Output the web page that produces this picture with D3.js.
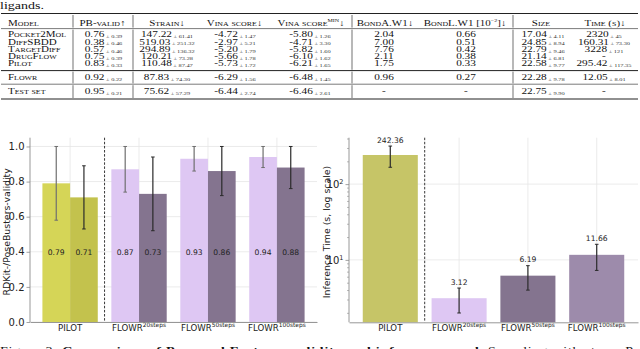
<!DOCTYPE html>
<html><head><meta charset="utf-8">
<script src="https://cdn.jsdelivr.net/npm/d3@7"></script>
<style>body{margin:0;background:#fff}svg{display:block}</style>
</head><body>
<svg id="c" width="640" height="349"></svg>
<script>
// ================= DATA =================
// Table
const tableModels = ["Pocket2Mol","DiffSBDD","TargetDiff","DrugFlow","Pilot","Flowr","Test set"];
const pbValidMean = ["0.76","0.38","0.57","0.75","0.83","0.92","0.95"];
const pbValidStd  = ["0.39","0.46","0.46","0.39","0.33","0.22","0.21"];
const strainMean  = ["147.22","519.03","294.89","120.21","110.48","87.83","75.62"];
const strainStd   = ["61.41","251.32","136.32","73.28","87.47","74.30","57.29"];
const vinaMean    = ["-4.72","-2.97","-5.20","-5.66","-5.73","-6.29","-6.44"];
const vinaStd     = ["1.47","5.21","1.79","1.78","1.72","1.56","2.74"];
const vinaMinMean = ["-5.80","-4.71","-5.82","-6.10","-6.21","-6.48","-6.46"];
const vinaMinStd  = ["1.26","3.30","1.60","1.62","1.65","1.45","2.61"];
const bondAW1     = ["2.04","7.00","7.76","2.11","1.75","0.96","-"];
const bondLW1     = ["0.66","0.51","0.42","0.38","0.33","0.27","-"];
const sizeMean    = ["17.04","24.85","22.79","21.14","22.58","22.28","22.75"];
const sizeStd     = ["4.11","8.94","9.46","6.81","9.77","9.78","9.90"];
const timeMean    = ["2320","160.31","3228","-","295.42","12.05","-"];
const timeStd     = ["45","73.30","121","","117.35","8.01",""];

// Charts
const methods      = ["PILOT","FLOWR20","FLOWR50","FLOWR100"];
const methodBase   = ["PILOT","FLOWR","FLOWR","FLOWR"];
const methodSup    = ["","20steps","50steps","100steps"];
const rdkitValid   = [0.79, 0.87, 0.93, 0.94];
const rdkitLow     = [0.58, 0.74, 0.86, 0.88];
const rdkitHigh    = [1.00, 1.00, 1.00, 1.00];
const pbValid      = [0.71, 0.73, 0.86, 0.88];
const pbLow        = [0.53, 0.52, 0.72, 0.76];
const pbHigh       = [0.89, 0.94, 1.00, 1.00];
const validityTicks = [0, 0.2, 0.4, 0.6, 0.8, 1.0];
const inferTime    = [242.36, 3.12, 6.19, 11.66];
const inferStd     = [75.5, 1.13, 2.2, 4.4];
const timeTicks    = [10, 100];
const timeMinorTicks = [2,3,4,5,6,7,8,9,20,30,40,50,60,70,80,90,200,300,400];

// ================= STYLE =================
const SERIF = "'Liberation Serif','Times New Roman',serif";
const SANS  = "'DejaVu Sans',sans-serif";
const pilotCols = ["#d5d557","#c3c24d"];
const flowrCols = ["#dec7f3","#84748f"];
const timeCols  = ["#c6c567","#dec7f3","#84748f","#9d8bab"];
const SY = 0.76; // vertical squash of the serif text, as in the reference

const svg = d3.select("#c");
svg.append("rect").attr("width",640).attr("height",349).attr("fill","#fff");

function ctext(g, x, y, anchor, size) {
  return g.append("text").attr("transform",`translate(${x},${y}) scale(1,${SY})`)
    .attr("text-anchor",anchor).attr("font-size",size);
}

// ================= TOP TEXT =================
ctext(svg, 0, 9.3, "start", 14).attr("font-family",SERIF).attr("fill","#111").text("ligands.");

// ================= TABLE =================
const tbl = svg.append("g").attr("font-family",SERIF).attr("fill","#111");
const rowSlot = [0,1,2,3,4,5.93,7.86];
const rowY = i => 37.4 + rowSlot[i]*7.2;
const rules = [[13.5,1.2],[28.6,0.6],[70.6,1.0],[84.2,0.6],[99,1.2]];
rules.forEach(([y,w]) => tbl.append("line").attr("x1",1).attr("x2",638)
  .attr("y1",y).attr("y2",y).attr("stroke","#222").attr("stroke-width",w));
const vseps = [73,133,352,513];
const sections = [[15,27.6],[29.6,69.8],[71.6,83.4],[85.2,98]];
vseps.forEach(x => sections.forEach(([a,b]) => tbl.append("line")
  .attr("x1",x).attr("x2",x).attr("y1",a).attr("y2",b)
  .attr("stroke","#333").attr("stroke-width",0.7)));

// headers
const headerY = 25.6;
const headers = [
  {x:8, a:"start", parts:[["Model"]]},
  {x:102.5, a:"middle", parts:[["PB-valid↑"]]},
  {x:167, a:"middle", parts:[["Strain↓"]]},
  {x:234.5, a:"middle", parts:[["Vina score↓"]]},
  {x:311, a:"middle", parts:[["Vina score"],["MIN","sup"],["↓"]]},
  {x:385, a:"middle", parts:[["BondA.W1↓"]]},
  {x:465, a:"middle", parts:[["BondL.W1 [10"],["−2","sup"],["]↓"]]},
  {x:541, a:"middle", parts:[["Size"]]},
  {x:605, a:"middle", parts:[["Time (s)↓"]]}
];
headers.forEach(h => {
  const t = ctext(tbl, h.x, headerY, h.a, 11).attr("font-variant","small-caps");
  let prevSup = false;
  h.parts.forEach(([s,k]) => {
    if (k === "sup") { t.append("tspan").attr("font-size",6).attr("dy",-5).attr("font-variant","normal").text(s); prevSup = true; }
    else { const sp = t.append("tspan").text(s); if (prevSup) sp.attr("dy",5); prevSup = false; }
  });
});
// model names
tableModels.forEach((m,i) => ctext(tbl, 8, rowY(i), "start", 11)
  .attr("font-variant","small-caps").text(m));
// values
const cols = [
  {x:103.5, mean:pbValidMean, sd:pbValidStd},
  {x:167,   mean:strainMean,  sd:strainStd},
  {x:235,   mean:vinaMean,    sd:vinaStd},
  {x:310,   mean:vinaMinMean, sd:vinaMinStd},
  {x:384,   mean:bondAW1},
  {x:466,   mean:bondLW1},
  {x:543,   mean:sizeMean,    sd:sizeStd},
  {x:604,   mean:timeMean,    sd:timeStd}
];
cols.forEach(c => c.mean.forEach((v,i) => {
  const t = ctext(tbl, c.x, rowY(i), "middle", 11.3);
  t.append("tspan").text(v);
  if (c.sd && c.sd[i]) t.append("tspan").attr("font-size",6.4).attr("dy",1)
    .attr("fill","#333").text(" ± " + c.sd[i]);
}));

// ================= CHART HELPERS =================
function styleAxis(g) {
  g.attr("font-family",SANS);
  g.select(".domain").attr("stroke","#8c8c8c").attr("stroke-width",0.9);
  g.selectAll(".tick line").attr("stroke","#8c8c8c").attr("stroke-width",0.8);
  g.selectAll(".tick text").attr("fill","#222");
}
function xLabels(g) {
  g.selectAll(".tick text").each(function(d){
    const i = methods.indexOf(d);
    const t = d3.select(this).text(null).attr("font-size",8.6);
    t.append("tspan").text(methodBase[i]);
    if (methodSup[i]) t.append("tspan").attr("font-size",5.9).attr("dy",-3.6).text(methodSup[i]);
  });
}
function errBar(g, cx, y1, y2, col) {
  g.append("line").attr("x1",cx).attr("x2",cx).attr("y1",y1).attr("y2",y2)
    .attr("stroke",col).attr("stroke-width",1.2);
  [y1,y2].forEach(y => g.append("line").attr("x1",cx-1.8).attr("x2",cx+1.8)
    .attr("y1",y).attr("y2",y).attr("stroke",col).attr("stroke-width",1));
}

// ================= LEFT CHART =================
const L = {l:30, r:317, t:137.7, b:322};
const gL = svg.append("g");
const xL = d3.scaleBand().domain(methods).range([L.l,L.r]).paddingInner(0.197).paddingOuter(0.18);
const xS = d3.scaleBand().domain(["rdkit","pb"]).range([0,xL.bandwidth()]);
const yL = d3.scaleLinear().domain([0,1.05]).range([L.b,L.t]);

gL.selectAll(".hg").data(validityTicks).join("line")
  .attr("x1",L.l).attr("x2",L.r).attr("y1",d=>yL(d)).attr("y2",d=>yL(d))
  .attr("stroke","#e6e6e6").attr("stroke-width",0.8);
gL.selectAll(".vg").data(methods).join("line")
  .attr("x1",d=>xL(d)+xL.bandwidth()/2).attr("x2",d=>xL(d)+xL.bandwidth()/2)
  .attr("y1",L.t).attr("y2",L.b).attr("stroke","#e6e6e6").attr("stroke-width",0.8);

methods.forEach((m,i) => {
  const cs = i === 0 ? pilotCols : flowrCols;
  [["rdkit",rdkitValid,rdkitLow,rdkitHigh,"#6f6f6f"],["pb",pbValid,pbLow,pbHigh,"#2a2a2a"]]
  .forEach(([k,vals,lo,hi,ec],j) => {
    const x = xL(m) + xS(k);
    gL.append("rect").attr("x",x).attr("width",xS.bandwidth())
      .attr("y",yL(vals[i])).attr("height",yL(0)-yL(vals[i])).attr("fill",cs[j]);
    errBar(gL, x + xS.bandwidth()/2, yL(hi[i]), yL(lo[i]), ec);
    gL.append("text").attr("x",x + xS.bandwidth()/2).attr("y",yL(0.4)+2.8)
      .attr("text-anchor","middle").attr("font-family",SANS).attr("font-size",7.6)
      .attr("fill","#222").text(d3.format(".2f")(vals[i]));
  });
});
const sepL = (xL("PILOT") + xL.bandwidth() + xL("FLOWR20"))/2;
gL.append("line").attr("x1",sepL).attr("x2",sepL).attr("y1",L.t).attr("y2",L.b)
  .attr("stroke","#222").attr("stroke-width",0.9).attr("stroke-dasharray","2.5,1.6");

const axL = gL.append("g").attr("transform",`translate(${L.l},0)`)
  .call(d3.axisLeft(yL).tickValues(validityTicks).tickFormat(d3.format(".1f")).tickSize(3.5).tickSizeOuter(0).tickPadding(2));
axL.select(".domain").attr("d",`M0,${L.t}V${L.b}`);
styleAxis(axL); axL.selectAll(".tick text").attr("font-size",10);
const bxL = gL.append("g").attr("transform",`translate(0,${L.b})`)
  .call(d3.axisBottom(xL).tickSize(0).tickSizeOuter(0).tickPadding(2.5));
styleAxis(bxL); xLabels(bxL);
gL.append("text").attr("transform",`translate(9.5,${(L.t+L.b)/2+2}) rotate(-90)`)
  .attr("text-anchor","middle").attr("font-family",SANS).attr("font-size",9.4)
  .attr("fill","#222").text("RDKit-/PoseBusters-validity");

// ================= RIGHT CHART =================
const R = {l:349, r:638, t:137.7, b:322.3};
const gR = svg.append("g");
const xR = d3.scaleBand().domain(methods).range([R.l,R.r]).paddingInner(0.2).paddingOuter(0.2);
const yR = d3.scaleLog().domain([1.5,410]).range([R.b,R.t]);

gR.selectAll(".hg").data(timeTicks).join("line")
  .attr("x1",R.l).attr("x2",R.r).attr("y1",d=>yR(d)).attr("y2",d=>yR(d))
  .attr("stroke","#e6e6e6").attr("stroke-width",0.8);
gR.selectAll(".vg").data(methods).join("line")
  .attr("x1",d=>xR(d)+xR.bandwidth()/2).attr("x2",d=>xR(d)+xR.bandwidth()/2)
  .attr("y1",R.t).attr("y2",R.b).attr("stroke","#e6e6e6").attr("stroke-width",0.8);

methods.forEach((m,i) => {
  const x = xR(m), cx = x + xR.bandwidth()/2;
  gR.append("rect").attr("x",x).attr("width",xR.bandwidth())
    .attr("y",yR(inferTime[i])).attr("height",R.b - yR(inferTime[i])).attr("fill",timeCols[i]);
  const top = yR(inferTime[i] + inferStd[i]);
  errBar(gR, cx, top, yR(inferTime[i] - inferStd[i]), "#2a2a2a");
  gR.append("text").attr("x",cx).attr("y",top - 3.4).attr("text-anchor","middle")
    .attr("font-family",SANS).attr("font-size",7.6).attr("fill","#222")
    .text(d3.format(".2f")(inferTime[i]));
});
const sepR = (xR("PILOT") + xR.bandwidth() + xR("FLOWR20"))/2;
gR.append("line").attr("x1",sepR).attr("x2",sepR).attr("y1",R.t).attr("y2",R.b)
  .attr("stroke","#222").attr("stroke-width",0.9).attr("stroke-dasharray","2.5,1.6");

const axR = gR.append("g").attr("transform",`translate(${R.l},0)`)
  .call(d3.axisLeft(yR).tickValues(timeTicks).tickSize(3.5).tickSizeOuter(0).tickPadding(2));
axR.select(".domain").attr("d",`M0,${R.t}V${R.b}`);
styleAxis(axR);
axR.selectAll(".tick text").attr("font-size",10).each(function(d){
  const t = d3.select(this).text(null);
  t.append("tspan").text("10");
  t.append("tspan").attr("font-size",6.5).attr("dy",-4).text(String(Math.round(Math.log10(d))));
});
const mnR = gR.append("g").attr("transform",`translate(${R.l},0)`)
  .call(d3.axisLeft(yR).tickValues(timeMinorTicks).tickSize(2).tickFormat(""));
mnR.select(".domain").remove();
mnR.selectAll(".tick line").attr("stroke","#8c8c8c").attr("stroke-width",0.6);
const bxR = gR.append("g").attr("transform",`translate(0,${R.b})`)
  .call(d3.axisBottom(xR).tickSize(0).tickSizeOuter(0).tickPadding(2.5));
styleAxis(bxR); xLabels(bxR);
gR.append("text").attr("transform",`translate(329.5,${(R.t+R.b)/2+2}) rotate(-90)`)
  .attr("text-anchor","middle").attr("font-family",SANS).attr("font-size",9.4)
  .attr("fill","#222").text("Inference Time (s, log scale)");

// ================= CAPTION (cut off at the bottom edge) =================
const cap = ctext(svg, 0, 353.5, "start", 14).attr("font-family",SERIF).attr("fill","#111")
  .attr("textLength",640).attr("lengthAdjust","spacing");
cap.append("tspan").text("Figure 3: ");
cap.append("tspan").attr("font-weight","bold").text("Comparison of Pose and Fastness validity and inference speed.");
cap.append("tspan").text(" Sampling with steps. Pe");
</script>
</body></html>
